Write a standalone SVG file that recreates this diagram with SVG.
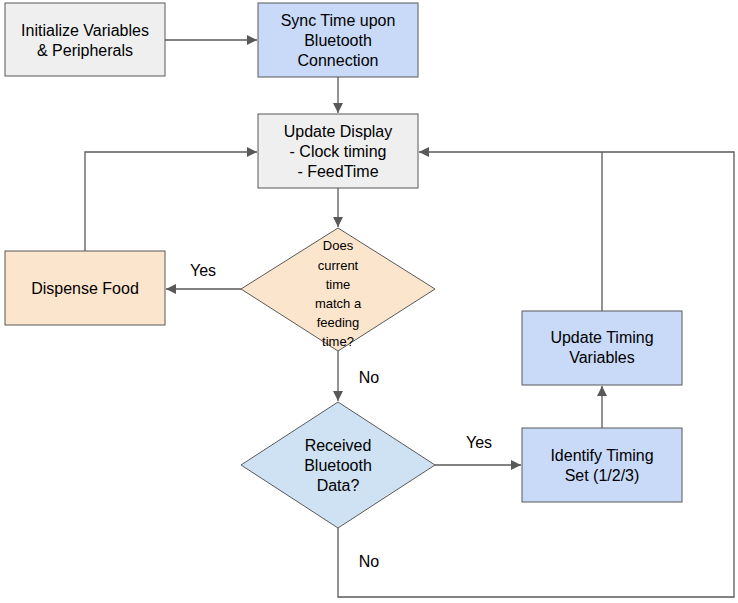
<svg xmlns="http://www.w3.org/2000/svg" width="738" height="603" viewBox="0 0 738 603">
<defs><marker id="a" viewBox="0 0 10 10" refX="10" refY="5" markerWidth="10" markerHeight="10" markerUnits="userSpaceOnUse" orient="auto"><path d="M0,0L10,5L0,10z" fill="#595959"/></marker></defs>
<style>
.n{stroke:#595959;stroke-width:1}
text{font-family:"Liberation Sans",Arial,sans-serif;font-size:16px;fill:#000;text-anchor:middle}
.s{font-size:13px}
.c{fill:none;stroke:#595959;stroke-width:1.3}
</style>
<rect width="738" height="603" fill="#fff"/>
<g id="init"><rect class="n" x="5" y="3" width="160" height="73" fill="#efefef"/><text x="85" y="36">Initialize Variables</text><text x="85" y="56">&amp; Peripherals</text></g>
<g id="sync"><rect class="n" x="258" y="3" width="160" height="74" fill="#c9daf8"/><text x="338" y="26">Sync Time upon</text><text x="338" y="46">Bluetooth</text><text x="338" y="66">Connection</text></g>
<g id="update"><rect class="n" x="258" y="114" width="160" height="74" fill="#efefef"/><text x="338" y="137">Update Display</text><text x="338" y="157">- Clock timing</text><text x="338" y="177">- FeedTime</text></g>
<g id="match"><path class="n" d="M338,228L435,289L338,351L241,289z" fill="#fce5cd"/><text class="s" x="338" y="250">Does</text><text class="s" x="338" y="270">current</text><text class="s" x="338" y="289">time</text><text class="s" x="338" y="308">match a</text><text class="s" x="338" y="327">feeding</text><text class="s" x="338" y="346">time?</text></g>
<g id="dispense"><rect class="n" x="5" y="251" width="160" height="74" fill="#fce5cd"/><text x="85" y="294">Dispense Food</text></g>
<g id="received"><path class="n" d="M338,402L435,465L338,528L241,465z" fill="#cfe2f3"/><text x="338" y="451">Received</text><text x="338" y="471">Bluetooth</text><text x="338" y="491">Data?</text></g>
<g id="identify"><rect class="n" x="522" y="428" width="160" height="74" fill="#c9daf8"/><text x="602" y="461">Identify Timing</text><text x="602" y="481">Set (1/2/3)</text></g>
<g id="timing"><rect class="n" x="522" y="311" width="160" height="74" fill="#c9daf8"/><text x="602" y="343">Update Timing</text><text x="602" y="363">Variables</text></g>
<g id="connectors">
<path class="c" d="M165,40H257" marker-end="url(#a)"/>
<path class="c" d="M338,77V113" marker-end="url(#a)"/>
<path class="c" d="M338,188V227" marker-end="url(#a)"/>
<path class="c" d="M241,289H166" marker-end="url(#a)"/>
<path class="c" d="M85,251V152H257" marker-end="url(#a)"/>
<path class="c" d="M338,351V401" marker-end="url(#a)"/>
<path class="c" d="M435,465H521" marker-end="url(#a)"/>
<path class="c" d="M602,428V386" marker-end="url(#a)"/>
<path class="c" d="M602,311V152"/>
<path class="c" d="M338,528V597H734V152H419" marker-end="url(#a)"/>
<text x="203" y="276">Yes</text>
<text x="369" y="383">No</text>
<text x="479" y="448">Yes</text>
<text x="369" y="567">No</text>
</g>
</svg>
